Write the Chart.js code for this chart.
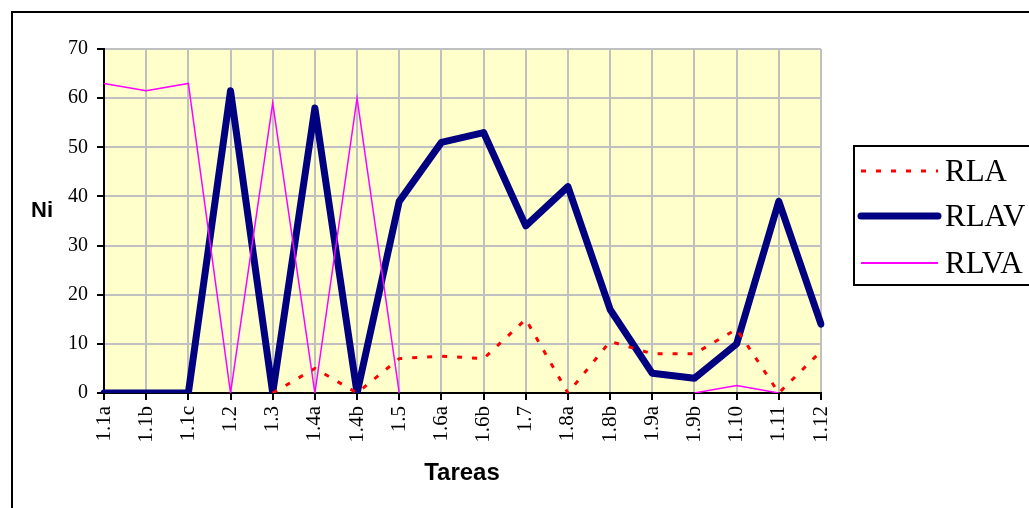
<!DOCTYPE html>
<html>
<head>
<meta charset="utf-8">
<script src="https://cdn.jsdelivr.net/npm/chart.js@4/dist/chart.umd.min.js"></script>
<style>
  html, body { margin: 0; padding: 0; background: #fff; }
  #wrap { width: 1029px; height: 508px; }
</style>
</head>
<body>
<div id="wrap"><canvas id="chart" width="1029" height="508"></canvas></div>
<script>
const tareas = ['1.1a', '1.1b', '1.1c', '1.2', '1.3', '1.4a', '1.4b', '1.5', '1.6a', '1.6b',
    '1.7', '1.8a', '1.8b', '1.9a', '1.9b', '1.10', '1.11', '1.12'];
const rla = [null, null, null, null, 0, 5, 0, 7, 7.5, 7, 15, 0, 10.5, 8, 8, 13, 0, 8.5];
const rlav = [0, 0, 0, 61.5, 0, 58, 0, 39, 51, 53, 34, 42, 17, 4, 3, 10, 39, 14];
const rlva = [63, 61.5, 63, 0, 59, 0, 60, 0, null, null, null, null, null, null, 0, 1.5, 0, null];
const yTicks = [0, 10, 20, 30, 40, 50, 60, 70];

const serif = "'Liberation Serif', 'Times New Roman', serif";
const sans = "'Liberation Sans', Arial, sans-serif";

// plot background, outer frame, axis titles and the legend box
const decorations = {
    id: 'decorations',
    beforeDraw(chart) {
        const ctx = chart.ctx;
        const a = chart.chartArea;
        ctx.save();
        ctx.fillStyle = '#FFFFCC';
        ctx.fillRect(a.left, a.top, a.right - a.left, a.bottom - a.top);
        ctx.restore();
    },
    afterDraw(chart) {
        const ctx = chart.ctx;
        ctx.save();
        ctx.strokeStyle = '#000';
        ctx.lineWidth = 2;
        ctx.strokeRect(12, 12, 1100, 600);

        ctx.fillStyle = '#000';
        ctx.font = 'bold 22px ' + sans;
        ctx.textAlign = 'center';
        ctx.textBaseline = 'middle';
        ctx.fillText('Ni', 42, 211);
        ctx.font = 'bold 24px ' + sans;
        ctx.fillText('Tareas', 462, 473);

        // legend
        ctx.lineWidth = 2;
        ctx.strokeRect(854, 146, 300, 139);
        const items = [
            { label: 'RLA', color: '#FF0000', width: 3, dash: [5, 10], y: 171 },
            { label: 'RLAV', color: '#000080', width: 7, dash: [], y: 216, cap: 'round' },
            { label: 'RLVA', color: '#FF00FF', width: 2, dash: [], y: 263 }
        ];
        ctx.font = '31px ' + serif;
        ctx.textAlign = 'left';
        items.forEach(it => {
            ctx.beginPath();
            ctx.strokeStyle = it.color;
            ctx.lineWidth = it.width;
            ctx.lineCap = it.cap || 'butt';
            ctx.setLineDash(it.dash);
            ctx.moveTo(861, it.y);
            ctx.lineTo(938, it.y);
            ctx.stroke();
            ctx.setLineDash([]);
            ctx.fillStyle = '#000';
            ctx.fillText(it.label, 945, it.y + 2);
        });
        ctx.restore();
    }
};

new Chart(document.getElementById('chart'), {
    type: 'line',
    data: {
        labels: tareas,
        datasets: [{
            label: 'RLA',
            data: rla,
            borderColor: '#FF0000',
            borderWidth: 3,
            borderDash: [5, 10],
            pointRadius: 0,
            tension: 0,
            order: 1
        }, {
            label: 'RLAV',
            data: rlav,
            borderColor: '#000080',
            borderWidth: 7,
            borderJoinStyle: 'round',
            borderCapStyle: 'round',
            pointRadius: 0,
            tension: 0,
            order: 2
        }, {
            label: 'RLVA',
            data: rlva,
            borderColor: '#FF00FF',
            borderWidth: 1.5,
            pointRadius: 0,
            tension: 0,
            order: 0
        }]
    },
    options: {
        responsive: false,
        animation: false,
        layout: { padding: { top: 49, right: 208, left: 0, bottom: 0 } },
        plugins: {
            legend: { display: false },
            tooltip: { enabled: false }
        },
        scales: {
            x: {
                offset: false,
                grid: { color: '#C0C0C0', tickColor: '#000', tickLength: 7, lineWidth: 2 },
                border: { color: '#000', width: 2 },
                ticks: {
                    color: '#000',
                    font: { family: serif, size: 21 },
                    minRotation: 90,
                    maxRotation: 90,
                    padding: 6
                },
                afterFit(scale) { scale.height = 115; }
            },
            y: {
                min: 0,
                max: 70,
                afterBuildTicks(scale) { scale.ticks = yTicks.map(v => ({ value: v })); },
                grid: { color: '#C0C0C0', tickColor: '#000', tickLength: 7, lineWidth: 2 },
                border: { color: '#000', width: 2 },
                ticks: {
                    color: '#000',
                    font: { family: serif, size: 20 },
                    padding: 9
                },
                afterFit(scale) { scale.width = 104; }
            }
        }
    },
    plugins: [decorations]
});
</script>
</body>
</html>
